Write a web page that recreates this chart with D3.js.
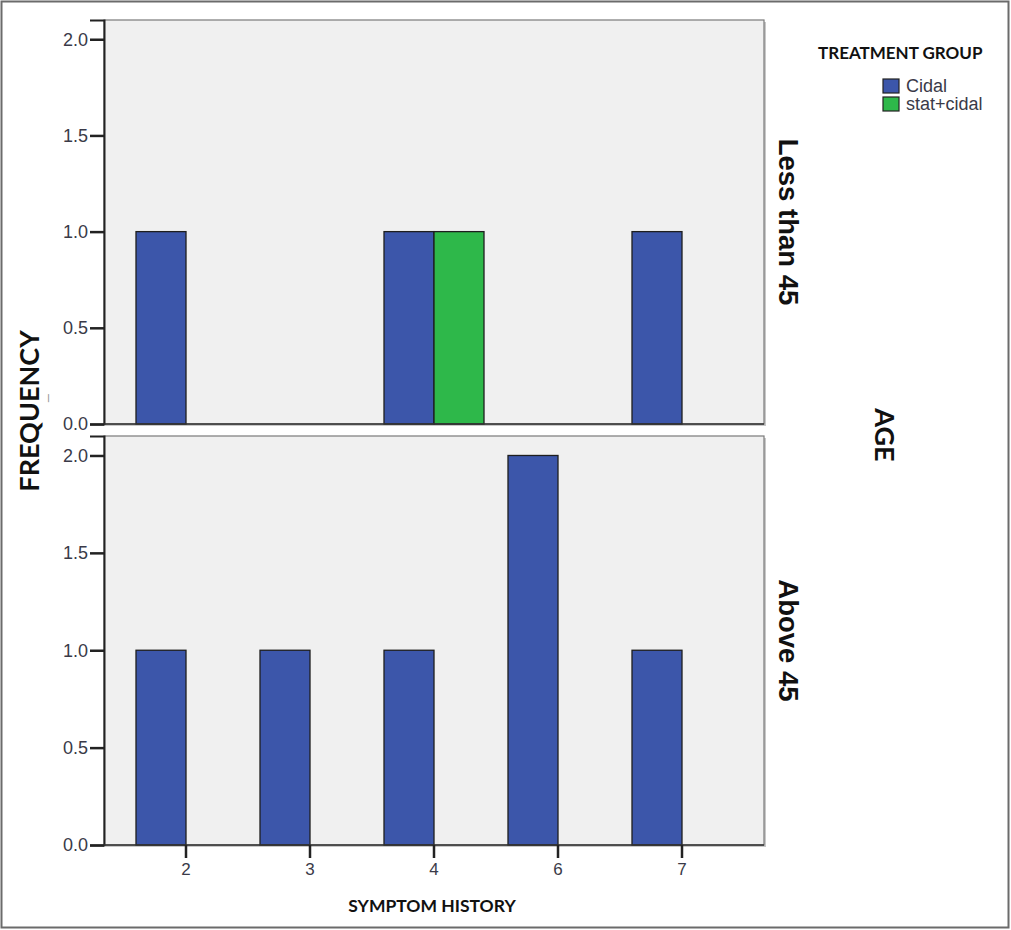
<!DOCTYPE html>
<html>
<head>
<meta charset="utf-8">
<script src="https://cdn.jsdelivr.net/npm/d3@7"></script>
<style>
  html, body { margin: 0; padding: 0; background: #fff; }
  svg { display: block; }
</style>
</head>
<body>
<div id="chart"></div>
<script>
const categories = ["2", "3", "4", "6", "7"];
const groups = ["Cidal", "stat+cidal"];
const panels = ["Less than 45", "Above 45"];
const lessThan45Cidal = [1, 0, 1, 0, 1];
const lessThan45Stat = [0, 0, 1, 0, 0];
const above45Cidal = [1, 1, 1, 2, 1];
const above45Stat = [0, 0, 0, 0, 0];
const yTicks = [0, 0.5, 1, 1.5, 2];
const groupColors = ["#3c56aa", "#2eb84a"];

const width = 1011;
const height = 930;

const svg = d3
  .select("#chart")
  .append("svg")
  .attr("width", width)
  .attr("height", height);

// outer frame
svg.append("rect")
  .attr("x", 1.5).attr("y", 1.5)
  .attr("width", 1007).attr("height", 926)
  .attr("fill", "#fff")
  .attr("stroke", "#6b6b6b")
  .attr("stroke-width", 2);

const plotLeft = 104, plotRight = 764;
const panelBoxes = [
  { top: 20, bottom: 424 },
  { top: 436, bottom: 845 },
];

const x0 = d3.scaleBand().domain(categories).range([plotLeft + 20, plotRight - 20]);
const x1 = d3.scaleBand().domain(groups).range([12, x0.bandwidth() - 12]);

const panelData = [
  [lessThan45Cidal, lessThan45Stat],
  [above45Cidal, above45Stat],
];

const fontAxis = "'Liberation Sans', Arial, sans-serif";
const fontTitle = "Lato, 'Open Sans', sans-serif";

panels.forEach((name, pi) => {
  const box = panelBoxes[pi];
  const y = d3.scaleLinear().domain([0, 2.1]).range([box.bottom, box.top]);
  const g = svg.append("g");

  // shadow + background
  g.append("rect")
    .attr("x", plotLeft + 2).attr("y", box.top + 2)
    .attr("width", plotRight - plotLeft).attr("height", box.bottom - box.top)
    .attr("fill", "#c8c8c8");
  g.append("rect")
    .attr("x", plotLeft).attr("y", box.top)
    .attr("width", plotRight - plotLeft).attr("height", box.bottom - box.top)
    .attr("fill", "#f0f0f0")
    .attr("stroke", "#7a7a7a")
    .attr("stroke-width", 1.2);

  // bars
  const rows = [];
  categories.forEach((c, ci) => {
    groups.forEach((gname, gi) => {
      const v = panelData[pi][gi][ci];
      if (v > 0) rows.push({ cat: c, group: gname, gi, value: v });
    });
  });

  g.selectAll("rect.bar")
    .data(rows)
    .join("rect")
    .attr("class", "bar")
    .attr("x", (d) => x0(d.cat) + x1(d.group))
    .attr("y", (d) => y(d.value))
    .attr("width", x1.bandwidth())
    .attr("height", (d) => y(0) - y(d.value))
    .attr("fill", (d) => groupColors[d.gi])
    .attr("stroke", "#1e1e1e")
    .attr("stroke-width", 1.3);

  // y axis
  const ya = g.append("g")
    .attr("transform", `translate(${plotLeft},0)`)
    .call(d3.axisLeft(y).tickValues(yTicks).tickFormat(d3.format(".1f")).tickSize(14).tickPadding(2));
  ya.select(".domain").attr("stroke", "#222").attr("stroke-width", 2);
  ya.selectAll(".tick line").attr("stroke", "#222").attr("stroke-width", 2.5);
  ya.selectAll("text")
    .attr("font-family", fontAxis)
    .attr("font-size", "18px")
    .attr("fill", "#3a3a48");

  // baseline
  g.append("line")
    .attr("x1", plotLeft).attr("x2", plotRight)
    .attr("y1", y(0)).attr("y2", y(0))
    .attr("stroke", "#333").attr("stroke-width", 1.5);

  // panel label
  const cy = (box.top + box.bottom) / 2;
  svg.append("text")
    .attr("transform", `translate(779,${cy}) rotate(90)`)
    .attr("text-anchor", "middle")
    .attr("font-family", fontAxis)
    .attr("font-weight", "bold")
    .attr("font-size", "27.5px")
    .attr("fill", "#111")
    .text(name);

  if (pi === 1) {
    const xa = g.append("g")
      .attr("transform", `translate(0,${box.bottom})`)
      .call(d3.axisBottom(x0).tickSize(13).tickPadding(5));
    xa.select(".domain").remove();
    xa.selectAll(".tick line")
      .attr("stroke", "#222").attr("stroke-width", 2.5);
    xa.selectAll("text")
      .attr("font-family", fontAxis)
      .attr("font-size", "17px")
      .attr("fill", "#3a3a48");
  }
});

// axis titles
svg.append("text")
  .attr("x", 432).attr("y", 912)
  .attr("text-anchor", "middle")
  .attr("font-family", fontTitle)
  .attr("font-weight", "bold")
  .attr("font-size", "17.5px")
  .attr("fill", "#111")
  .text("SYMPTOM HISTORY");

svg.append("text")
  .attr("transform", "translate(39,411) rotate(-90)")
  .attr("text-anchor", "middle")
  .attr("font-family", fontTitle)
  .attr("font-weight", "bold")
  .attr("font-size", "27px")
  .attr("fill", "#111")
  .text("FREQUENCY");

svg.append("text")
  .attr("transform", "translate(46,398) rotate(-90)")
  .attr("text-anchor", "middle")
  .attr("font-family", fontAxis)
  .attr("font-size", "14px")
  .attr("fill", "#999")
  .text("_");

svg.append("text")
  .attr("transform", "translate(875,435) rotate(90)")
  .attr("text-anchor", "middle")
  .attr("font-family", fontTitle)
  .attr("font-weight", "bold")
  .attr("font-size", "27px")
  .attr("fill", "#111")
  .text("AGE");

// legend
const legend = svg.append("g");
legend.append("text")
  .attr("x", 818).attr("y", 59)
  .attr("font-family", fontTitle)
  .attr("font-weight", "bold")
  .attr("font-size", "17px")
  .attr("fill", "#111")
  .text("TREATMENT GROUP");

const legendY = d3.scaleBand().domain(groups).range([77, 113]);
legend.selectAll("rect")
  .data(groups)
  .join("rect")
  .attr("x", 883)
  .attr("y", (d) => legendY(d) + 2)
  .attr("width", 16)
  .attr("height", 14)
  .attr("fill", (d, i) => groupColors[i])
  .attr("stroke", "#222")
  .attr("stroke-width", 1.2);
legend.selectAll("text.item")
  .data(groups)
  .join("text")
  .attr("class", "item")
  .attr("x", 906)
  .attr("y", (d) => legendY(d) + 15)
  .attr("font-family", fontAxis)
  .attr("font-size", "18px")
  .attr("fill", "#3a3a48")
  .text((d) => d);
</script>
</body>
</html>
